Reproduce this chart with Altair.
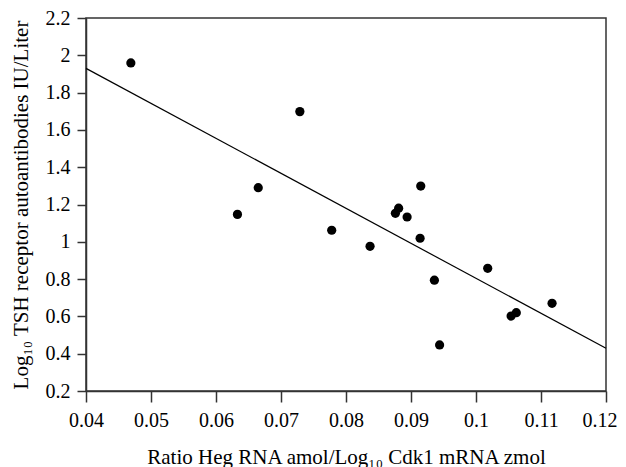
import altair as alt
import pandas as pd

# data
ratio = [0.0469, 0.0729, 0.0633, 0.0665, 0.0915, 0.0881, 0.0876, 0.0894, 0.0778,
         0.0837, 0.0914, 0.0936, 0.1018, 0.1117, 0.1054, 0.1062, 0.0944]
tsh = [1.959, 1.698, 1.147, 1.290, 1.299, 1.180, 1.153, 1.133, 1.062,
       0.976, 1.019, 0.794, 0.858, 0.670, 0.602, 0.620, 0.447]
fit_x = [0.04, 0.12]
fit_y = [1.930, 0.429]
x_ticks = [0.04, 0.05, 0.06, 0.07, 0.08, 0.09, 0.10, 0.11, 0.12]
y_ticks = [0.2, 0.4, 0.6, 0.8, 1.0, 1.2, 1.4, 1.6, 1.8, 2.0, 2.2]

pts = pd.DataFrame({"ratio": ratio, "tsh": tsh})
fit = pd.DataFrame({"ratio": fit_x, "tsh": fit_y})

FONT = "Liberation Serif"
xs = alt.Scale(domain=[0.04, 0.12], nice=False, zero=False)
ys = alt.Scale(domain=[0.2, 2.2], nice=False, zero=False)

last_test = "datum.value >= 0.1195"
xaxis = alt.Axis(values=x_ticks, format=".2~f", grid=False, labelOverlap=False,
                 labelFlush=False,
                 labelAlign={"condition": {"test": last_test, "value": "right"}, "value": "center"},
                 labelOffset={"condition": {"test": last_test, "value": 11}, "value": 0},
                 title="Ratio Heg RNA amol/Log₁₀ Cdk1 mRNA zmol",
                 tickSize=11, labelPadding=8, titlePadding=16)
yaxis = alt.Axis(values=y_ticks, format=".1~f", grid=False, labelOverlap=False,
                 labelFlush=False,
                 title="Log₁₀ TSH receptor autoantibodies IU/Liter",
                 tickSize=9, labelPadding=7, titlePadding=14)

points = alt.Chart(pts).mark_circle(size=85, color="black", opacity=1).encode(
    x=alt.X("ratio:Q", scale=xs, axis=xaxis),
    y=alt.Y("tsh:Q", scale=ys, axis=yaxis),
)
line = alt.Chart(fit).mark_line(color="black", strokeWidth=1.2).encode(
    x=alt.X("ratio:Q", scale=xs, axis=xaxis),
    y=alt.Y("tsh:Q", scale=ys, axis=yaxis),
)

chart = (points + line).properties(
    width=520, height=373,
    autosize=alt.AutoSizeParams(type="none"),
    padding={"left": 78, "top": 10, "right": 12, "bottom": 80},
).configure_view(
    stroke="#333333", strokeWidth=1.5
).configure_axis(
    domainColor="#333333", domainWidth=1.5, tickColor="#333333", tickWidth=1.5,
    labelFont=FONT, labelFontSize=20, labelColor="black",
    titleFont=FONT, titleFontSize=21, titleFontWeight="normal", titleColor="black",
)

chart.save("out.html", embed_options={"renderer": "svg", "actions": False})
